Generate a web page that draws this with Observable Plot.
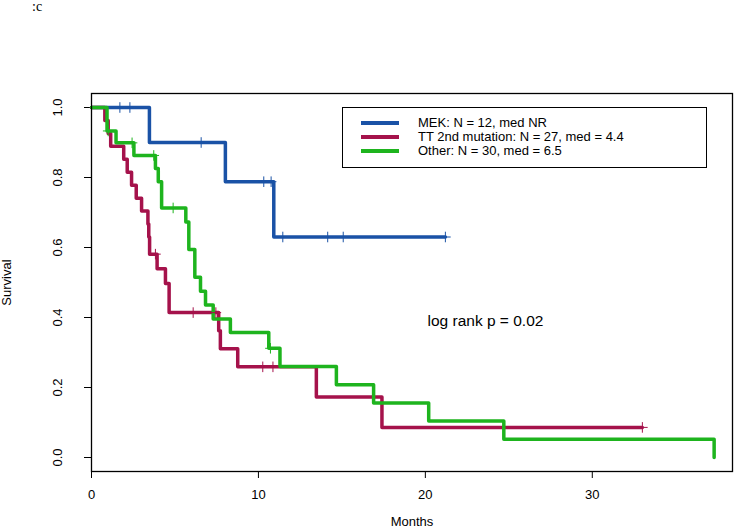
<!DOCTYPE html>
<html><head><meta charset="utf-8">
<script src="https://cdn.jsdelivr.net/npm/d3@7"></script>
<script src="https://cdn.jsdelivr.net/npm/@observablehq/plot@0.6"></script>
<style>
body{margin:0;background:#fff;}
#wrap{position:relative;width:741px;height:527px;font-family:"Liberation Sans",Arial,sans-serif;}
#panel{position:absolute;left:32px;top:0;font-family:"Liberation Serif","Times New Roman",serif;font-size:14px;line-height:14px;color:#000;}
#legend{position:absolute;left:342px;top:107px;width:363px;height:59px;border:1px solid #000;background:#fff;}
.row{position:absolute;left:0;height:14px;width:360px;}
.sw{position:absolute;left:18px;width:38px;height:4px;top:5px;}
.lab{position:absolute;left:75px;top:0;font-size:13px;line-height:14px;white-space:nowrap;color:#000;}
</style></head>
<body><div id="wrap"></div>
<script>
// ---- data ----
const groups = ["MEK: N = 12, med NR", "TT 2nd mutation: N = 27, med = 4.4", "Other: N = 30, med = 6.5"];
const colors = ["#1a52a6", "#a5124b", "#1eb41e"];

const mekTime = [0, 3.47, 8.02, 10.92, 21.2];
const mekSurv = [1, 0.9, 0.788, 0.63, 0.63];
const mekCensor = [1.7, 2.3, 6.57, 10.32, 10.76, 11.46, 14.15, 15.08, 21.2];

const ttTime = [0, 0.8, 1.0, 1.15, 1.93, 2.14, 2.4, 2.68, 3.0, 3.38, 3.43, 3.48, 3.93, 4.43, 4.65, 7.62, 7.72, 8.76, 13.47, 17.4, 33.0];
const ttSurv = [1, 0.963, 0.926, 0.889, 0.852, 0.815, 0.778, 0.741, 0.704, 0.667, 0.630, 0.581, 0.539, 0.497, 0.414, 0.362, 0.311, 0.259, 0.173, 0.086, 0.086];
const ttCensor = [3.83, 6.09, 7.45, 10.26, 10.87, 33.0];

const otherTime = [0, 0.93, 1.47, 2.54, 3.83, 4.0, 4.2, 5.65, 5.83, 6.19, 6.53, 6.83, 7.29, 8.32, 10.62, 11.29, 14.67, 16.9, 20.2, 24.7, 37.3];
const otherSurv = [1, 0.933, 0.899, 0.863, 0.826, 0.788, 0.713, 0.673, 0.594, 0.515, 0.475, 0.436, 0.396, 0.357, 0.312, 0.26, 0.208, 0.156, 0.104, 0.052, 0];
const otherCensor = [1.0, 2.43, 3.73, 4.89, 10.72];

const xTicks = [0, 10, 20, 30];
const yTicks = [0, 0.2, 0.4, 0.6, 0.8, 1.0];
const pText = ["log rank p = 0.02"];
const pPos = [23.6, 0.39];
const panelLabel = ":c";

// ---- build tables ----
const series = [
  [groups[0], mekTime, mekSurv, mekCensor],
  [groups[1], ttTime, ttSurv, ttCensor],
  [groups[2], otherTime, otherSurv, otherCensor]
];
const rows = [];
const cens = [];
for (const [g, T, S, C] of series) {
  T.forEach((t, i) => rows.push({g, t, s: S[i]}));
  C.forEach(c => {
    const i = Math.max(0, d3.bisectRight(T, c) - 1);
    cens.push({g, t: c, s: S[i]});
  });
}

const plot = Plot.plot({
  width: 741, height: 527,
  marginLeft: 91, marginRight: 9, marginTop: 93, marginBottom: 56,
  style: {fontFamily: "Liberation Sans, Arial, sans-serif", fontSize: "13px", background: "white", color: "black"},
  x: {domain: [0, 38.4]},
  y: {domain: [-0.04, 1.04]},
  color: {domain: groups, range: colors},
  marks: [
    Plot.axisX({ticks: xTicks, tickSize: 7, tickPadding: 11, label: "Months", labelAnchor: "center", labelOffset: 54, labelArrow: "none", fontSize: 13}),
    Plot.axisY({ticks: yTicks, tickSize: 7, text: null, label: "Survival", labelAnchor: "center", labelOffset: 90, labelArrow: "none", fontSize: 13}),
    Plot.axisY({ticks: yTicks, tickFormat: d3.format(".1f"), tickSize: 0, tickRotate: -90, tickPadding: 0, dx: -30, label: null, fontSize: 13}),
    Plot.line(rows, {x: "t", y: "s", z: "g", stroke: "g", curve: "step-after", strokeWidth: 3.5}),
    Plot.dot(cens, {x: "t", y: "s", stroke: "g", symbol: "plus", r: 3.5, strokeWidth: 1}),
    Plot.text(pText, {x: pPos[0], y: pPos[1], text: d => d, fontSize: 15.5, textAnchor: "middle", fill: "black"}),
    Plot.frame({stroke: "black", strokeWidth: 1.3})
  ]
});
const wrap = document.getElementById("wrap");
wrap.appendChild(plot);

const panel = document.createElement("div");
panel.id = "panel"; panel.textContent = panelLabel;
wrap.appendChild(panel);

const leg = document.createElement("div");
leg.id = "legend";
groups.forEach((g, i) => {
  const r = document.createElement("div");
  r.className = "row"; r.style.top = (8 + i * 14) + "px";
  const sw = document.createElement("div");
  sw.className = "sw"; sw.style.background = colors[i];
  const lb = document.createElement("div");
  lb.className = "lab"; lb.textContent = g;
  r.appendChild(sw); r.appendChild(lb);
  leg.appendChild(r);
});
wrap.appendChild(leg);
</script></body></html>
